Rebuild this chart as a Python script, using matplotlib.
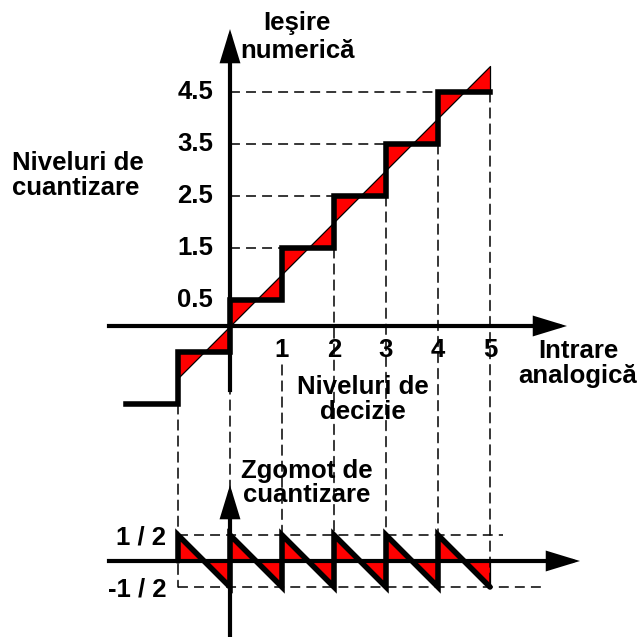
import numpy as np
import matplotlib
matplotlib.use("Agg")
import matplotlib.pyplot as plt
from matplotlib.patches import ConnectionPatch

plt.rcParams['font.family'] = ['Liberation Sans', 'DejaVu Sans']
plt.rcParams['font.weight'] = 'bold'

# --- data -------------------------------------------------------------
# decision thresholds of the quantizer (analog input)
decision_levels = [-1, 0, 1, 2, 3, 4, 5]
# quantizer output for each input interval, starting at the left tail
staircase_x = [-2, -1, 0, 1, 2, 3, 4, 5]
staircase_y = [-1.5, -0.5, 0.5, 1.5, 2.5, 3.5, 4.5, 4.5]
# output level held inside each decision interval [d_k, d_k+1]
interval_levels = [-0.5, 0.5, 1.5, 2.5, 3.5, 4.5]

x_tick_values = [1, 2, 3, 4, 5]
x_tick_labels = ['1', '2', '3', '4', '5']
y_tick_values = [0.5, 1.5, 2.5, 3.5, 4.5]
y_tick_labels = ['0.5', '1.5', '2.5', '3.5', '4.5']
noise_tick_values = [0.5, -0.5]
noise_tick_labels = ['1 / 2', '-1 / 2']

# --- layout (one data unit = UNIT pixels, same for both panels) -------
W, H, DPI = 640, 637, 100
UNIT = 52.0
X0_PX = 230.0          # pixel column of input = 0
TOP_Y0_PX = 326.0      # pixel row of output = 0 (from top)
NOISE_Y0_PX = 561.0    # pixel row of noise = 0 (from top)

FS = 18.5
AXIS_LW = 3.0
STEP_LW = 4.0
DASH_LW = 1.1
DASHES = (6.5, 4.0)
RED = '#ff0000'

fig = plt.figure(figsize=(W / DPI, H / DPI), dpi=DPI)
xlim = (-X0_PX / UNIT, (W - X0_PX) / UNIT)

ax = fig.add_axes([0, 0, 1, 1])
ax.set_xlim(*xlim)
ax.set_ylim((TOP_Y0_PX - H) / UNIT, TOP_Y0_PX / UNIT)
ax.axis('off')

axn = fig.add_axes([0, 0, 1, 1])
axn.set_xlim(*xlim)
axn.set_ylim((NOISE_Y0_PX - H) / UNIT, NOISE_Y0_PX / UNIT)
axn.axis('off')
axn.patch.set_alpha(0)


def arrow(a, start, tip):
    a.annotate('', xy=tip, xytext=start,
               arrowprops=dict(arrowstyle='-|>,head_length=1.8,head_width=0.55',
                               lw=AXIS_LW, color='black', shrinkA=0, shrinkB=0,
                               mutation_scale=10, joinstyle='miter'),
               zorder=6)


def label(a, x, y, s, **kw):
    opts = dict(ha='center', va='center', fontsize=FS, fontweight='bold',
                linespacing=1.05, zorder=7)
    opts.update(kw)
    a.text(x, y, s, **opts)


# --- quantizer characteristic ------------------------------------------
lo = decision_levels[:-1]
hi = decision_levels[1:]

# guide lines from the output axis to each step
for k, lev in zip(hi[:-1], interval_levels[1:]):
    ax.plot([0, k], [lev, lev], color='black', lw=DASH_LW, dashes=DASHES, zorder=1)

# quantization error areas between the ideal line and the staircase
for a, b, lev in zip(lo, hi, interval_levels):
    ax.fill_between([a, b], [a, b], [lev, lev], facecolor=RED,
                    edgecolor='black', lw=0.9, zorder=3)

ax.step(staircase_x, staircase_y, where='post', color='black', lw=STEP_LW,
        solid_joinstyle='miter', solid_capstyle='projecting', zorder=5)

# axes with arrow heads
ax.plot([xlim[0] + 2.1, 0], [0, 0], color='black', lw=AXIS_LW, zorder=6)
arrow(ax, (0, 0), (6.48, 0))
ax.plot([0, 0], [-1.23, 0], color='black', lw=AXIS_LW, zorder=6)
arrow(ax, (0, 0), (0, 5.71))

for v, t in zip(y_tick_values, y_tick_labels):
    label(ax, -0.32, v, t, ha='right')
for v, t in zip(x_tick_values, x_tick_labels):
    label(ax, v, -0.46, t)

label(ax, 1.29, 5.56, 'Ieşire\nnumerică', linespacing=1.2)
label(ax, -4.2, 2.9, 'Niveluri de\ncuantizare', ha='left', multialignment='left')
label(ax, 6.69, -0.73, 'Intrare\nanalogică')
label(ax, 2.56, -1.42, 'Niveluri de\ndecizie')

# --- quantization noise --------------------------------------------------
noise_x, noise_y = [lo[0]], [0.0]
for a, b, lev in zip(lo, hi, interval_levels):
    noise_x += [a, b]
    noise_y += [lev - a, lev - b]

axn.plot([-1, 5.25], [0.5, 0.5], color='black', lw=DASH_LW, dashes=DASHES, zorder=1)
axn.plot([-1, 6.0], [-0.5, -0.5], color='black', lw=DASH_LW, dashes=DASHES, zorder=1)

for a, b, lev in zip(lo, hi, interval_levels):
    axn.fill_between([a, b], [lev - a, lev - b], [0, 0], facecolor=RED,
                     edgecolor='black', lw=0.9, zorder=3)

axn.plot([xlim[0] + 2.1, 0], [0, 0], color='black', lw=AXIS_LW, zorder=4)
arrow(axn, (0, 0), (6.73, 0))
axn.plot([0, 0], [-1.6, 0], color='black', lw=AXIS_LW, zorder=4)
arrow(axn, (0, 0), (0, 1.46))

axn.plot(noise_x, noise_y, color='black', lw=STEP_LW, solid_joinstyle='miter',
         solid_capstyle='round', zorder=5)

for v, t in zip(noise_tick_values, noise_tick_labels):
    label(axn, -1.23, v - 0.05, t, ha='right')

label(axn, 1.47, 1.5, 'Zgomot de\ncuantizare')

# --- dashed projections from the characteristic down to the noise ------
proj_start = [-1.5, -0.5, -0.75, 1.5, 2.5, 3.5, 4.5]
for d, y0 in zip(decision_levels, proj_start):
    con = ConnectionPatch(xyA=(d, y0), coordsA=ax.transData,
                          xyB=(d, -0.5), coordsB=axn.transData,
                          color='black', lw=DASH_LW, linestyle=(0, DASHES), zorder=1)
    fig.add_artist(con)

fig.savefig('out.png', dpi=DPI)
